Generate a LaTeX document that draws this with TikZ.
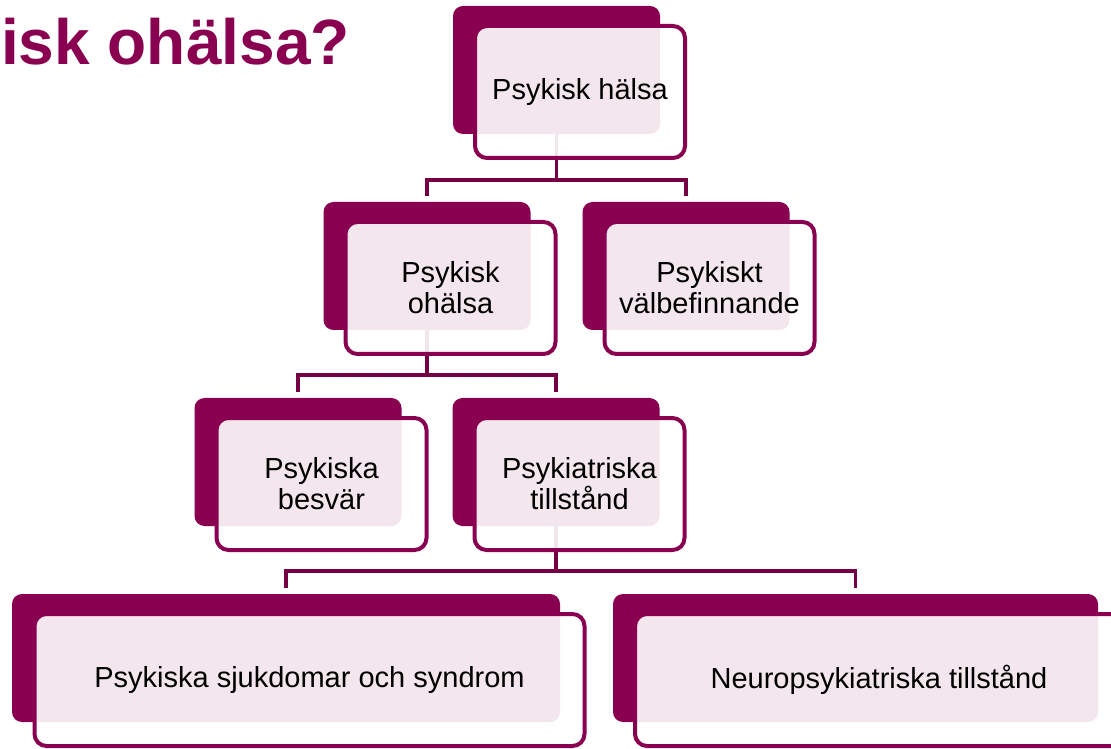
\documentclass[tikz,border=0pt]{standalone}
\usepackage{fontspec}
\setmainfont{Liberation Sans}
\usetikzlibrary{arrows}
\definecolor{plum}{RGB}{138,0,80}
\definecolor{plumline}{RGB}{118,0,68}
\tikzstyle{back} = [rectangle, fill=plum, rounded corners=10pt, minimum width=207pt,
    minimum height=128pt, inner sep=0pt, outer sep=0pt]
\tikzstyle{box} = [rectangle, draw=plum, line width=4pt, fill=white, fill opacity=0.9,
    text opacity=1, rounded corners=12pt, text centered, align=center, minimum width=210pt,
    minimum height=132pt, inner sep=0pt, xshift=23.5pt, yshift=-22pt,
    font=\fontsize{29}{31}\selectfont]
\tikzstyle{line} = [draw, plumline, line width=3.5pt, shorten >=6pt]

\begin{document}
\begin{tikzpicture}[x=1pt,y=1pt,node distance=196pt]
    \useasboundingbox (0,0) rectangle (1111,748);

    \node [anchor=base west, inner sep=0pt, text=plum, font=\fontsize{64}{64}\selectfont\bfseries] (titel) at (1,683) {isk ohälsa?};

    % dark backs
    \node [back] (halsa) at (556.5,678) {};
    \node [back, below of=halsa, xshift=-129.5pt] (ohalsa) {};
    \node [back, below of=halsa, xshift=129.5pt] (valbef) {};
    \node [back, below of=ohalsa, xshift=-129pt] (besvar) {};
    \node [back, below of=ohalsa, xshift=129pt] (tillst) {};
    \node [back, below of=tillst, xshift=-270pt, minimum width=548pt] (sjukdom) {};
    \node [back, below of=tillst, xshift=299.5pt, minimum width=485pt] (neuro) {};

    \path [line] (halsa.south) -- ++(0,-46) -| (ohalsa.north);
    \path [line] (halsa.south) -- ++(0,-46) -| (valbef.north);
    \path [line] (ohalsa.south) -- ++(0,-45) -| (besvar.north);
    \path [line] (ohalsa.south) -- ++(0,-45) -| (tillst.north);
    \path [line] (tillst.south) -- ++(0,-45) -| (sjukdom.north);
    \path [line] (tillst.south) -- ++(0,-45) -| (neuro.north);

    % text boxes
    \node [box] (halsa-t) at (halsa) {Psykisk hälsa};
    \node [box] (ohalsa-t) at (ohalsa) {Psykisk\\ohälsa};
    \node [box] (valbef-t) at (valbef) {Psykiskt\\välbefinnande};
    \node [box] (besvar-t) at (besvar) {Psykiska\\besvär};
    \node [box] (tillst-t) at (tillst) {Psykiatriska\\tillstånd};
    \node [box, minimum width=550pt] (sjukdom-t) at (sjukdom) {Psykiska sjukdomar och syndrom};
    \node [box, minimum width=488pt] (neuro-t) at (neuro) {Neuropsykiatriska tillstånd};

\end{tikzpicture}
\end{document}
